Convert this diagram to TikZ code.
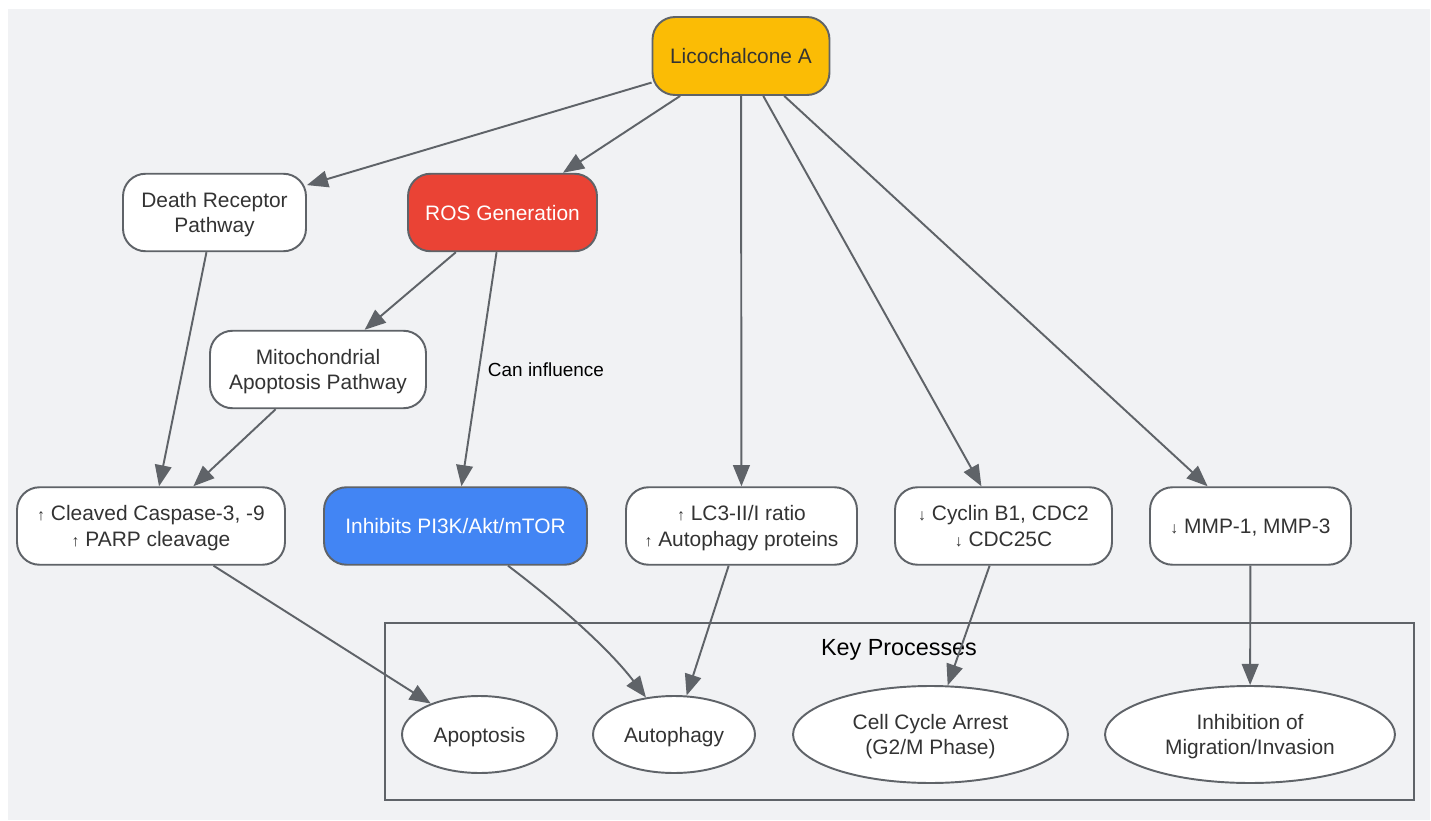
\documentclass[tikz,border=0pt]{standalone}
\usepackage{fontspec}
\setmainfont{Liberation Sans}
\usetikzlibrary{shapes.geometric, arrows.meta, positioning}
\definecolor{bgcol}{HTML}{F1F2F4}
\definecolor{edgecol}{HTML}{5F6368}
\definecolor{txtcol}{HTML}{333333}
\definecolor{licoyellow}{HTML}{FBBC05}
\definecolor{rosred}{HTML}{EA4335}
\definecolor{pikblue}{HTML}{4285F4}
\newcommand{\incmark}{{\fontsize{9}{9}\selectfont ↑}}
\newcommand{\decmark}{{\fontsize{9}{9}\selectfont ↓}}
\tikzstyle{pathway} = [
	rectangle, 
	rounded corners=0.45cm, 
	minimum height=1.55cm, 
	align=center, 
	text centered, 
	text depth=0pt,
	draw=edgecol, 
	line width=1.1pt,
	fill=white,
	text=txtcol,
	font=\fontsize{11.9}{14.7}\selectfont]
\tikzstyle{outcome} = [
	ellipse, 
	inner sep=0pt,
	minimum height=1.54cm, 
	align=center, 
	text centered, 
	text depth=0pt,
	draw=edgecol, 
	line width=1.1pt,
	fill=white,
	text=txtcol,
	font=\fontsize{11.9}{14.7}\selectfont]
\tikzstyle{cluster} = [draw=edgecol, line width=1.1pt]
\tikzstyle{arrow} = [-{Triangle[length=12pt, width=9.5pt]}, draw=edgecol, line width=1.1pt]

\begin{document}
\begin{tikzpicture}[x=0.02cm, y=-0.02cm]

\useasboundingbox (0,0) rectangle (1431,821);
\fill[bgcol] (8,9) rectangle (1430,820);

% --- Cluster ---
\draw [cluster] (385,623) rectangle (1414,800);
\node (keytitle) [text depth=0pt] at (899,647) {\fontsize{13.3}{16}\selectfont Key Processes};

% --- Nodes ---
\node (lico) [pathway, fill=licoyellow, minimum width=3.54cm, minimum height=1.56cm] at (741,56) {Licochalcone A};

\node (death) [pathway, minimum width=3.66cm] at (214.5,212.5) {Death Receptor \\ Pathway};
\node (ros) [pathway, fill=rosred, text=white, minimum width=3.78cm] at (502.5,212.5) {ROS Generation};
\node (mito) [pathway, minimum width=4.32cm] at (318,369.5) {Mitochondrial \\ Apoptosis Pathway};

\node (caspase) [pathway, minimum width=5.36cm] at (151,526) {\incmark{} Cleaved Caspase-3, -9 \\ \incmark{} PARP cleavage};
\node (pikinh) [pathway, fill=pikblue, text=white, minimum width=5.26cm] at (455.5,526) {Inhibits PI3K/Akt/mTOR};
\node (lcratio) [pathway, minimum width=4.62cm] at (741.5,526) {\incmark{} LC3-II/I ratio \\ \incmark{} Autophagy proteins};
\node (cyclin) [pathway, minimum width=4.34cm] at (1003.5,526) {\decmark{} Cyclin B1, CDC2 \\ \decmark{} CDC25C};
\node (mmp) [pathway, minimum width=4.02cm] at (1250.5,526) {\decmark{} MMP-1, MMP-3};

\node (apoptosis) [outcome, minimum width=3.1cm] at (479.5,734.5) {Apoptosis};
\node (autophagy) [outcome, minimum width=3.24cm] at (674,734.5) {Autophagy};
\node (arrest) [outcome, minimum width=5.5cm, minimum height=1.94cm] at (930.5,734.5) {Cell Cycle Arrest \\ (G2/M Phase)};
\node (migration) [outcome, minimum width=5.8cm, minimum height=1.94cm] at (1250,734.5) {Inhibition of \\ Migration/Invasion};

% --- Arrows ---
\draw [arrow] (lico) -- (death);
\draw [arrow] (lico) -- (ros);
\draw [arrow] (lico) -- (lcratio);
\draw [arrow] (lico) -- (cyclin);
\draw [arrow] (lico) -- (mmp);

\draw [arrow] (death) -- (caspase);
\draw [arrow] (ros) -- (mito);
\draw [arrow] (ros) -- node[midway, right=0.16cm, inner sep=0pt, font=\fontsize{10.8}{13}\selectfont]{Can influence} (pikinh);
\draw [arrow] (mito) -- (caspase);

\draw [arrow] (caspase) -- (apoptosis);
\draw [arrow] (pikinh) .. controls (560,605) and (610,650) .. (autophagy);
\draw [arrow] (lcratio) -- (autophagy);
\draw [arrow] (cyclin) -- (arrest);
\draw [arrow] (mmp) -- (migration);

\end{tikzpicture}
\end{document}
